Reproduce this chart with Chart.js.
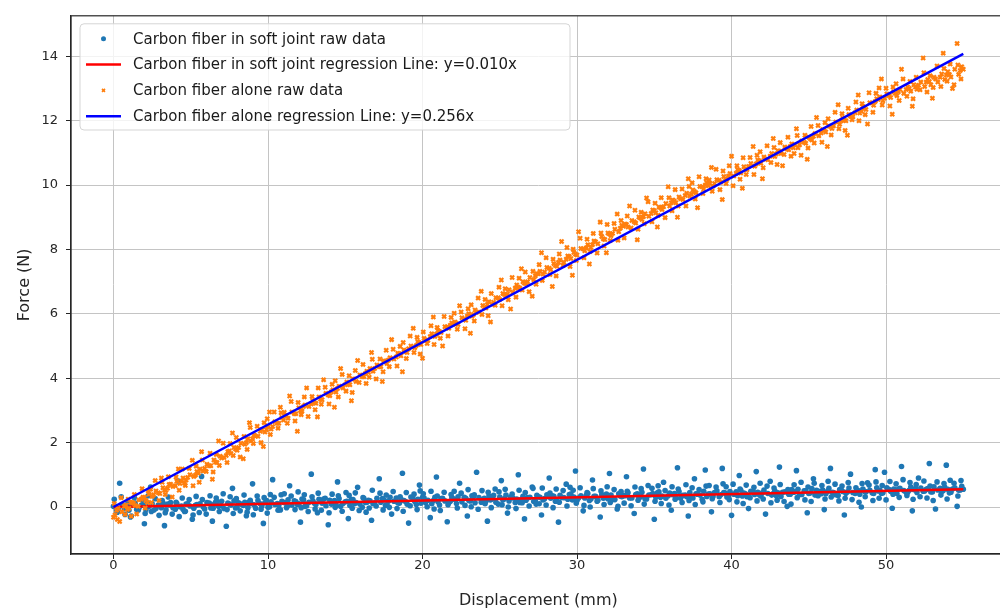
<!DOCTYPE html>
<html>
<head>
<meta charset="utf-8">
<script src="https://cdn.jsdelivr.net/npm/chart.js@4.4.1/dist/chart.umd.min.js"></script>
<style>
  html, body { margin: 0; padding: 0; background: #fff; overflow: hidden; }
  canvas { display: block; }
</style>
</head>
<body>
<canvas id="forceChart" width="1012" height="615"></canvas>
<script>
// displacement samples (mm), first pass
const displacement = [
  0.0,0.2,0.4,0.7,0.9,1.1,1.3,1.5,1.8,2.0,2.2,2.4,2.6,2.9,3.1,3.3,3.5,3.7,4.0,4.2,4.4,4.6,4.8,5.1,5.3,
  5.5,5.7,5.9,6.2,6.4,6.6,6.8,7.0,7.3,7.5,7.7,7.9,8.1,8.4,8.6,8.8,9.0,9.2,9.5,9.7,9.9,10.1,10.3,10.6,10.8,
  11.0,11.2,11.4,11.7,11.9,12.1,12.3,12.5,12.8,13.0,13.2,13.4,13.6,13.9,14.1,14.3,14.5,14.7,15.0,15.2,15.4,15.6,15.8,16.1,16.3,
  16.5,16.7,16.9,17.2,17.4,17.6,17.8,18.0,18.3,18.5,18.7,18.9,19.1,19.4,19.6,19.8,20.0,20.2,20.5,20.7,20.9,21.1,21.3,21.6,21.8,
  22.0,22.2,22.4,22.7,22.9,23.1,23.3,23.5,23.8,24.0,24.2,24.4,24.6,24.9,25.1,25.3,25.5,25.7,26.0,26.2,26.4,26.6,26.8,27.1,27.3,
  27.5,27.7,27.9,28.2,28.4,28.6,28.8,29.0,29.3,29.5,29.7,29.9,30.1,30.4,30.6,30.8,31.0,31.2,31.5,31.7,31.9,32.1,32.3,32.6,32.8,
  33.0,33.2,33.4,33.7,33.9,34.1,34.3,34.5,34.8,35.0,35.2,35.4,35.6,35.9,36.1,36.3,36.5,36.7,37.0,37.2,37.4,37.6,37.8,38.1,38.3,
  38.5,38.7,38.9,39.2,39.4,39.6,39.8,40.0,40.3,40.5,40.7,40.9,41.1,41.4,41.6,41.8,42.0,42.2,42.5,42.7,42.9,43.1,43.3,43.6,43.8,
  44.0,44.2,44.4,44.7,44.9,45.1,45.3,45.5,45.8,46.0,46.2,46.4,46.6,46.9,47.1,47.3,47.5,47.7,48.0,48.2,48.4,48.6,48.8,49.1,49.3,
  49.5,49.7,49.9,50.2,50.4,50.6,50.8,51.0,51.3,51.5,51.7,51.9,52.1,52.4,52.6,52.8,53.0,53.2,53.5,53.7,53.9,54.1,54.3,54.6,54.8,
  55.0
];

// force (N), carbon fiber inside the soft joint, first pass
const softJointForce = [
  0.02,-0.12,0.74,-0.05,0.08,-0.31,0.11,-0.08,0.05,-0.52,0.12,0.62,-0.1,0.06,-0.02,-0.58,0.09,0.14,-0.07,0.81,0.03,-0.14,0.1,-0.38,0.05,
  0.07,0.95,-0.06,0.12,-0.44,0.15,0.02,0.18,-0.6,0.09,0.58,-0.03,0.13,0.05,-0.27,0.16,0.72,-0.04,0.1,-0.51,0.2,0.01,0.85,0.11,-0.09,
  0.15,-0.02,0.66,0.19,0.08,-0.47,0.22,0.04,1.02,0.12,-0.18,0.17,0.25,-0.55,0.09,0.2,0.78,0.02,0.16,-0.36,0.23,0.1,0.61,-0.01,0.14,
  0.21,-0.41,0.13,0.88,0.26,0.05,0.19,-0.22,0.28,0.12,1.05,0.17,-0.5,0.24,0.08,0.68,0.3,0.14,-0.33,0.2,0.93,0.06,0.27,-0.46,0.18,
  0.25,0.11,0.74,0.3,-0.28,0.19,0.33,1.08,0.15,0.27,-0.44,0.22,0.36,0.09,0.82,0.26,-0.19,0.31,0.14,1.0,0.24,-0.37,0.29,0.62,0.2,
  0.32,-0.25,0.26,0.9,0.35,0.18,-0.47,0.3,0.71,0.39,0.22,1.12,0.28,-0.12,0.36,0.2,0.84,0.33,-0.31,0.27,0.4,1.04,0.23,-0.06,0.34,
  0.36,0.94,0.28,-0.2,0.41,0.31,1.18,0.25,0.38,-0.38,0.44,0.3,0.77,0.35,-0.1,0.42,1.22,0.27,0.37,-0.28,0.33,0.88,0.4,0.24,1.15,
  0.4,-0.15,0.45,0.32,1.2,0.43,0.36,-0.26,0.47,0.98,0.34,0.41,-0.05,0.49,1.1,0.38,0.44,-0.22,0.8,0.42,0.35,1.24,0.46,0.02,0.4,
  0.46,1.13,0.39,0.5,-0.18,0.44,0.88,0.52,0.41,-0.08,0.48,1.2,0.45,0.36,0.53,-0.25,0.47,1.02,0.42,0.51,0.0,0.49,0.75,0.44,1.16,
  0.5,0.43,1.08,0.54,-0.04,0.48,0.56,1.26,0.46,0.52,-0.12,0.57,0.9,0.49,0.55,1.35,0.47,-0.06,0.58,0.51,1.3,0.44,0.56,0.02,0.53,
  0.55
];

// force (N), bare carbon fiber, first pass
const fiberAloneForce = [
  -0.32,-0.1,-0.45,0.02,-0.08,0.15,0.12,-0.22,0.25,0.3,0.14,0.55,0.38,0.44,0.9,0.53,0.58,0.71,0.66,1.18,0.8,0.74,0.92,1.45,0.99,
  1.05,1.72,1.2,1.28,0.86,1.4,2.05,1.52,1.6,1.74,2.3,1.8,1.85,1.5,2.0,2.62,2.12,2.2,2.35,1.88,2.4,2.95,2.5,2.6,3.1,
  2.7,2.84,3.45,2.9,2.35,3.0,3.12,3.7,3.2,3.25,2.8,3.35,3.95,3.48,3.58,3.1,3.68,4.3,3.8,3.82,3.3,3.97,4.55,4.05,4.15,
  4.18,4.8,4.3,4.36,3.9,4.52,4.57,5.2,4.66,4.76,4.2,4.83,4.92,5.55,5.02,5.1,4.62,5.18,5.3,5.9,5.37,5.45,5.0,5.6,5.65,
  5.68,5.7,6.25,5.84,5.93,5.4,5.98,6.05,6.7,6.2,6.29,5.75,6.36,6.5,7.05,6.6,6.62,6.15,6.8,6.83,7.4,6.95,7.0,6.55,7.18,
  7.25,7.9,7.3,7.42,6.85,7.5,7.6,8.25,7.7,7.78,7.2,7.85,8.55,8.02,8.05,7.55,8.15,8.24,8.85,8.33,7.9,8.48,8.5,9.1,8.66,
  8.72,8.78,9.35,8.86,8.3,8.98,9.02,9.6,9.12,9.2,8.7,9.3,9.33,9.95,9.45,9.5,9.0,9.58,9.68,10.2,9.72,9.8,9.3,9.95,10.0,
  9.98,10.55,10.05,10.15,9.55,10.2,10.28,10.9,10.37,10.45,9.9,10.5,10.58,11.2,10.66,10.75,10.2,10.8,10.9,11.45,10.97,11.05,10.6,11.12,11.2,
  11.16,11.75,11.25,11.33,10.8,11.44,11.52,12.1,11.62,11.7,11.2,11.82,11.84,12.5,12.0,12.02,11.55,12.14,12.25,12.8,12.3,12.4,11.9,12.55,12.6,
  12.66,13.3,12.7,12.78,12.2,12.85,12.9,13.6,12.97,13.0,12.45,13.05,13.1,13.95,13.2,13.22,12.7,13.3,13.35,14.1,13.42,13.44,13.0,14.4,13.56,
  13.6
];

// displacement samples (mm), second pass
const displacement2 = [
  0.1,0.3,0.55,0.8,1.0,1.2,1.4,1.65,1.9,2.1,2.3,2.5,2.75,3.0,3.2,3.4,3.6,3.85,4.1,4.3,4.5,4.7,4.95,5.2,5.4,
  5.6,5.8,6.05,6.3,6.5,6.7,6.9,7.15,7.4,7.6,7.8,8.0,8.25,8.5,8.7,8.9,9.1,9.35,9.6,9.8,10.0,10.2,10.45,10.7,10.9,
  11.1,11.3,11.55,11.8,12.0,12.2,12.4,12.65,12.9,13.1,13.3,13.5,13.75,14.0,14.2,14.4,14.6,14.85,15.1,15.3,15.5,15.7,15.95,16.2,16.4,
  16.6,16.8,17.05,17.3,17.5,17.7,17.9,18.15,18.4,18.6,18.8,19.0,19.25,19.5,19.7,19.9,20.1,20.35,20.6,20.8,21.0,21.2,21.45,21.7,21.9,
  22.1,22.3,22.55,22.8,23.0,23.2,23.4,23.65,23.9,24.1,24.3,24.5,24.75,25.0,25.2,25.4,25.6,25.85,26.1,26.3,26.5,26.7,26.95,27.2,27.4,
  27.6,27.8,28.05,28.3,28.5,28.7,28.9,29.15,29.4,29.6,29.8,30.0,30.25,30.5,30.7,30.9,31.1,31.35,31.6,31.8,32.0,32.2,32.45,32.7,32.9,
  33.1,33.3,33.55,33.8,34.0,34.2,34.4,34.65,34.9,35.1,35.3,35.5,35.75,36.0,36.2,36.4,36.6,36.85,37.1,37.3,37.5,37.7,37.95,38.2,38.4,
  38.6,38.8,39.05,39.3,39.5,39.7,39.9,40.15,40.4,40.6,40.8,41.0,41.25,41.5,41.7,41.9,42.1,42.35,42.6,42.8,43.0,43.2,43.45,43.7,43.9,
  44.1,44.3,44.55,44.8,45.0,45.2,45.4,45.65,45.9,46.1,46.3,46.5,46.75,47.0,47.2,47.4,47.6,47.85,48.1,48.3,48.5,48.7,48.95,49.2,49.4,
  49.6,49.8,50.05,50.3,50.5,50.7,50.9,51.15,51.4,51.6,51.8,52.0,52.25,52.5,52.7,52.9,53.1,53.35,53.6,53.8,54.0,54.2,54.45,54.7,54.9
];

// force (N), carbon fiber inside the soft joint, second pass
const softJointForce2 = [
  0.03,-0.06,0.08,0.0,-0.1,0.05,0.12,-0.03,0.07,-0.08,0.02,0.1,-0.05,0.04,0.13,-0.09,0.06,-0.02,0.11,0.01,-0.07,0.09,0.03,-0.04,0.08,
  0.1,0.01,0.14,-0.03,0.08,0.17,0.04,-0.05,0.12,0.06,0.19,0.0,0.09,0.15,-0.02,0.11,0.07,0.2,0.03,0.13,-0.01,0.16,0.08,0.05,0.18,
  0.13,0.22,0.06,0.17,0.1,0.25,0.02,0.15,0.19,0.08,0.24,0.12,0.04,0.21,0.16,0.07,0.26,0.11,0.18,0.05,0.23,0.14,0.09,0.27,0.15,
  0.19,0.1,0.27,0.15,0.22,0.07,0.3,0.18,0.13,0.25,0.2,0.09,0.31,0.17,0.24,0.12,0.28,0.21,0.1,0.3,0.16,0.26,0.19,0.13,0.29,
  0.24,0.32,0.16,0.27,0.2,0.35,0.13,0.29,0.23,0.18,0.34,0.26,0.15,0.31,0.22,0.37,0.19,0.28,0.25,0.14,0.33,0.21,0.3,0.17,0.36,
  0.3,0.22,0.38,0.27,0.33,0.19,0.36,0.29,0.24,0.4,0.31,0.2,0.35,0.28,0.42,0.25,0.33,0.21,0.39,0.3,0.26,0.37,0.23,0.41,0.32,
  0.35,0.44,0.28,0.39,0.31,0.46,0.26,0.37,0.42,0.3,0.47,0.34,0.27,0.43,0.38,0.29,0.48,0.36,0.32,0.45,0.28,0.41,0.37,0.49,0.33,
  0.41,0.33,0.5,0.38,0.45,0.31,0.48,0.4,0.35,0.52,0.43,0.32,0.49,0.39,0.46,0.34,0.53,0.42,0.37,0.5,0.44,0.33,0.47,0.4,0.54,
  0.47,0.55,0.39,0.5,0.42,0.57,0.37,0.49,0.53,0.41,0.58,0.46,0.38,0.54,0.48,0.43,0.59,0.45,0.51,0.4,0.56,0.47,0.52,0.42,0.6,
  0.52,0.44,0.6,0.49,0.56,0.42,0.58,0.51,0.46,0.62,0.54,0.45,0.59,0.5,0.57,0.47,0.63,0.53,0.48,0.61,0.55,0.46,0.6,0.52,0.64
];

// force (N), bare carbon fiber, second pass
const fiberAloneForce2 = [
  -0.25,-0.05,-0.15,0.06,-0.04,0.14,0.05,0.22,0.3,0.2,0.4,0.33,0.5,0.42,0.6,0.52,0.7,0.64,0.8,0.73,0.9,0.84,1.0,0.95,1.1,
  1.18,1.12,1.33,1.28,1.46,1.38,1.58,1.54,1.72,1.66,1.85,1.76,1.98,1.95,2.12,2.05,2.24,2.2,2.4,2.33,2.52,2.42,2.65,2.6,2.78,
  2.84,2.76,2.95,2.9,3.08,2.98,3.17,3.12,3.3,3.22,3.42,3.33,3.53,3.46,3.64,3.57,3.75,3.7,3.88,3.8,3.98,3.9,4.1,4.05,4.22,
  4.3,4.22,4.41,4.36,4.54,4.46,4.64,4.6,4.78,4.7,4.88,4.8,5.0,4.95,5.13,5.05,5.24,5.18,5.38,5.3,5.48,5.42,5.6,5.55,5.72,
  5.75,5.67,5.88,5.8,6.0,5.93,6.12,6.06,6.26,6.18,6.38,6.3,6.5,6.45,6.63,6.55,6.75,6.68,6.9,6.8,7.0,6.94,7.13,7.06,7.25,
  7.32,7.24,7.44,7.37,7.56,7.48,7.67,7.6,7.8,7.72,7.91,7.83,8.03,7.96,8.15,8.07,8.26,8.18,8.4,8.31,8.51,8.43,8.63,8.55,8.75,
  8.79,8.7,8.9,8.82,9.01,8.93,9.11,9.03,9.23,9.14,9.32,9.24,9.43,9.35,9.54,9.45,9.63,9.55,9.75,9.66,9.85,9.76,9.96,9.88,10.07,
  10.06,9.97,10.17,10.09,10.27,10.18,10.36,10.28,10.48,10.38,10.57,10.48,10.67,10.59,10.78,10.68,10.87,10.79,10.98,10.89,11.07,10.98,11.18,11.1,11.28,
  11.25,11.16,11.37,11.3,11.49,11.4,11.6,11.53,11.73,11.65,11.84,11.76,11.96,11.89,12.08,12.0,12.19,12.12,12.33,12.24,12.44,12.35,12.56,12.48,12.68,
  12.74,12.62,12.83,12.72,12.9,12.78,12.97,12.85,13.05,12.92,13.12,12.98,13.2,13.06,13.28,13.12,13.35,13.2,13.45,13.28,13.52,13.36,13.6,13.44,13.68
];

// displacement samples (mm), third pass
const displacement3 = [
  0.05,0.25,0.5,0.75,0.95,1.15,1.35,1.6,1.85,2.05,2.25,2.45,2.7,2.95,3.15,3.35,3.55,3.8,4.05,4.25,4.45,4.65,4.9,5.15,5.35,
  5.55,5.75,6.0,6.25,6.45,6.65,6.85,7.1,7.35,7.55,7.75,7.95,8.2,8.45,8.65,8.85,9.05,9.3,9.55,9.75,9.95,10.15,10.4,10.65,10.85,
  11.05,11.25,11.5,11.75,11.95,12.15,12.35,12.6,12.85,13.05,13.25,13.45,13.7,13.95,14.15,14.35,14.55,14.8,15.05,15.25,15.45,15.65,15.9,16.15,16.35,
  16.55,16.75,17.0,17.25,17.45,17.65,17.85,18.1,18.35,18.55,18.75,18.95,19.2,19.45,19.65,19.85,20.05,20.3,20.55,20.75,20.95,21.15,21.4,21.65,21.85,
  22.05,22.25,22.5,22.75,22.95,23.15,23.35,23.6,23.85,24.05,24.25,24.45,24.7,24.95,25.15,25.35,25.55,25.8,26.05,26.25,26.45,26.65,26.9,27.15,27.35,
  27.55,27.75,28.0,28.25,28.45,28.65,28.85,29.1,29.35,29.55,29.75,29.95,30.2,30.45,30.65,30.85,31.05,31.3,31.55,31.75,31.95,32.15,32.4,32.65,32.85,
  33.05,33.25,33.5,33.75,33.95,34.15,34.35,34.6,34.85,35.05,35.25,35.45,35.7,35.95,36.15,36.35,36.55,36.8,37.05,37.25,37.45,37.65,37.9,38.15,38.35,
  38.55,38.75,39.0,39.25,39.45,39.65,39.85,40.1,40.35,40.55,40.75,40.95,41.2,41.45,41.65,41.85,42.05,42.3,42.55,42.75,42.95,43.15,43.4,43.65,43.85,
  44.05,44.25,44.5,44.75,44.95,45.15,45.35,45.6,45.85,46.05,46.25,46.45,46.7,46.95,47.15,47.35,47.55,47.8,48.05,48.25,48.45,48.65,48.9,49.15,49.35,
  49.55,49.75,50.0,50.25,50.45,50.65,50.85,51.1,51.35,51.55,51.75,51.95,52.2,52.45,52.65,52.85,53.05,53.3,53.55,53.75,53.95,54.15,54.4,54.65,54.85
];

// force (N), carbon fiber inside the soft joint, third pass
const softJointForce3 = [
  0.24,-0.16,0.32,-0.23,0.17,-0.28,0.29,-0.1,0.22,-0.2,0.35,-0.14,0.26,-0.26,0.2,-0.18,0.31,-0.22,0.15,-0.3,0.28,-0.13,0.23,-0.25,0.33,
  -0.17,0.23,-0.22,0.35,-0.04,0.28,-0.14,0.41,-0.08,0.32,-0.2,0.26,-0.12,0.37,-0.16,0.21,-0.24,0.34,-0.07,0.29,-0.19,0.39,0.3,-0.1,0.38,
  0.41,0.02,0.34,-0.08,0.47,-0.02,0.38,-0.14,0.32,-0.06,0.43,-0.1,0.27,-0.18,0.4,-0.01,0.35,-0.13,0.45,0.36,-0.04,0.44,-0.11,0.29,-0.16,
  -0.03,0.52,0.03,0.43,-0.09,0.37,-0.01,0.48,-0.05,0.32,-0.13,0.45,0.04,0.4,-0.08,0.5,0.41,0.01,0.49,-0.06,0.34,-0.11,0.46,0.07,0.39,
  0.49,-0.03,0.43,0.05,0.54,0.01,0.38,-0.07,0.51,0.1,0.46,-0.02,0.56,0.47,0.07,0.55,0.0,0.4,-0.05,0.52,0.13,0.45,0.03,0.58,0.09,
  0.1,0.59,0.06,0.43,-0.02,0.56,0.15,0.51,0.03,0.61,0.52,0.12,0.6,0.05,0.45,0.0,0.57,0.18,0.5,0.08,0.63,0.14,0.54,0.02,0.48,
  0.12,0.49,0.04,0.62,0.21,0.57,0.09,0.67,0.58,0.18,0.66,0.11,0.51,0.06,0.63,0.24,0.56,0.14,0.69,0.2,0.6,0.08,0.54,0.16,0.65,
  0.67,0.26,0.62,0.14,0.72,0.63,0.23,0.71,0.16,0.56,0.11,0.68,0.29,0.61,0.19,0.74,0.25,0.65,0.13,0.59,0.21,0.7,0.17,0.54,0.09,
  0.69,0.29,0.77,0.22,0.62,0.17,0.74,0.35,0.67,0.25,0.8,0.31,0.71,0.19,0.65,0.27,0.76,0.23,0.6,0.15,0.73,0.32,0.68,0.2,0.78,
  0.27,0.67,0.22,0.79,0.4,0.72,0.3,0.85,0.36,0.76,0.24,0.7,0.32,0.81,0.28,0.65,0.2,0.78,0.37,0.73,0.25,0.83,0.74,0.34,0.82
];

// force (N), bare carbon fiber, third pass
const fiberAloneForce3 = [
  0.11,-0.39,0.29,-0.23,0.24,-0.29,0.39,0.02,0.57,-0.03,0.5,0.14,0.82,0.2,0.77,0.39,0.94,0.31,0.93,0.52,1.18,0.67,1.2,0.66,1.27,
  0.77,1.46,1.1,1.67,1.09,1.63,1.29,1.98,1.38,1.97,1.6,2.16,1.55,2.19,1.79,2.47,1.97,2.51,2.0,2.62,2.74,2.25,2.95,2.45,2.93,
  2.94,2.6,3.28,2.67,3.25,2.87,3.42,2.81,3.43,3.02,3.7,3.19,3.72,3.2,3.81,3.92,3.42,4.12,3.6,4.08,3.56,4.24,3.87,4.43,3.84,
  4.03,4.59,3.98,4.6,4.2,4.87,4.36,4.9,4.38,4.99,5.11,4.61,5.31,4.8,5.27,4.75,5.44,5.08,5.63,5.05,5.58,5.24,5.92,5.31,5.89,
  6.02,5.52,6.06,5.54,6.16,6.28,5.78,6.49,5.98,6.45,5.94,6.63,6.27,6.83,6.25,6.78,6.44,7.13,6.52,7.11,6.74,7.3,6.69,7.32,6.92,
  7.53,7.04,7.74,7.22,7.7,7.18,7.86,7.5,8.06,7.47,8.01,7.66,8.35,7.74,8.32,7.94,8.5,7.89,8.51,8.11,8.78,8.28,8.81,8.29,8.9,
  8.36,9.04,8.67,9.22,8.63,9.16,8.8,9.48,8.86,9.44,9.06,9.61,8.99,9.61,9.2,9.86,9.35,9.88,9.35,9.96,10.07,9.57,10.26,9.74,10.2,
  10.16,9.81,10.49,9.86,10.44,10.05,10.6,9.98,10.6,10.18,10.85,10.33,10.86,10.33,10.93,11.04,10.54,11.22,10.7,11.17,10.64,11.32,10.95,11.49,10.9,
  10.98,11.54,10.93,11.55,11.15,11.82,11.31,11.85,11.33,11.94,12.06,11.56,12.26,11.75,12.22,11.7,12.39,12.03,12.58,12.0,12.53,12.19,12.87,12.26,12.85,
  13.02,12.49,13.01,12.46,13.05,13.15,12.63,13.3,12.76,13.22,12.68,13.35,12.96,13.49,12.89,13.4,13.03,13.7,13.06,13.62,13.23,13.76,13.12,13.73,13.3
];

// fitted slopes (N/mm) and the displacement span they are drawn over
const softJointSlope = 0.010;
const fiberAloneSlope = 0.256;
const fitSpan = [0, 55];

const xTicks = [0, 10, 20, 30, 40, 50];
const yTicks = [0, 2, 4, 6, 8, 10, 12, 14];

const FONT = '"DejaVu Sans", "Liberation Sans", sans-serif';

const toPoints = (xs, ys) => xs.map((x, i) => ({ x: x, y: ys[i] }));
const fitLine = k => fitSpan.map(x => ({ x: x, y: k * x }));

const softJointPoints = [
    ...toPoints(displacement, softJointForce),
    ...toPoints(displacement2, softJointForce2),
    ...toPoints(displacement3, softJointForce3)
];
const fiberAlonePoints = [
    ...toPoints(displacement, fiberAloneForce),
    ...toPoints(displacement2, fiberAloneForce2),
    ...toPoints(displacement3, fiberAloneForce3)
];

// full box around the plot area, like matplotlib spines
const frame = {
    id: 'frame',
    afterDatasetsDraw(chart) {
        const { ctx, chartArea: a } = chart;
        ctx.save();
        ctx.strokeStyle = '#262626';
        ctx.lineWidth = 1.2;
        ctx.strokeRect(a.left, a.top, a.right - a.left, a.bottom - a.top);
        ctx.restore();
    }
};

// legend drawn inside the axes, upper left
const insideLegend = {
    id: 'insideLegend',
    afterDraw(chart) {
        const { ctx, chartArea: a } = chart;
        const sets = chart.data.datasets;
        const x0 = a.left + 9, y0 = a.top + 8;
        const rowH = 25.8;
        const w = 490, h = sets.length * rowH + 3;

        ctx.save();
        ctx.beginPath();
        ctx.roundRect(x0, y0, w, h, 4);
        ctx.fillStyle = 'rgba(255,255,255,0.8)';
        ctx.fill();
        ctx.strokeStyle = '#d5d5d5';
        ctx.lineWidth = 1;
        ctx.stroke();

        ctx.font = '15px ' + FONT;
        ctx.textBaseline = 'middle';
        sets.forEach((ds, i) => {
            const cy = y0 + 15 + i * rowH;
            const hx = x0 + 6;
            if (ds.showLine) {
                ctx.strokeStyle = ds.borderColor;
                ctx.lineWidth = 2.5;
                ctx.beginPath();
                ctx.moveTo(hx, cy);
                ctx.lineTo(hx + 35, cy);
                ctx.stroke();
            } else if (ds.pointStyle === 'crossRot') {
                ctx.strokeStyle = ds.borderColor;
                ctx.lineWidth = 1.6;
                ctx.beginPath();
                ctx.moveTo(hx + 16, cy - 1.5); ctx.lineTo(hx + 19, cy + 1.5);
                ctx.moveTo(hx + 16, cy + 1.5); ctx.lineTo(hx + 19, cy - 1.5);
                ctx.stroke();
            } else {
                ctx.fillStyle = ds.backgroundColor;
                ctx.beginPath();
                ctx.arc(hx + 17.5, cy, 2.5, 0, Math.PI * 2);
                ctx.fill();
            }
            ctx.fillStyle = '#1a1a1a';
            ctx.fillText(ds.label, x0 + 53, cy + 1);
        });
        ctx.restore();
    }
};

new Chart(document.getElementById('forceChart'), {
    type: 'scatter',
    data: {
        datasets: [
            {
                label: 'Carbon fiber in soft joint raw data',
                data: softJointPoints,
                backgroundColor: '#1f77b4',
                borderWidth: 0,
                pointRadius: 2.8,
                order: 4
            },
            {
                label: 'Carbon fiber in soft joint regression Line: y=' + softJointSlope.toFixed(3) + 'x',
                data: fitLine(softJointSlope),
                showLine: true,
                borderColor: '#ff0000',
                borderWidth: 2.5,
                pointRadius: 0,
                order: 3
            },
            {
                label: 'Carbon fiber alone raw data',
                data: fiberAlonePoints,
                pointStyle: 'crossRot',
                borderColor: '#ff7f0e',
                backgroundColor: '#ff7f0e',
                borderWidth: 2.2,
                pointRadius: 2.8,
                order: 2
            },
            {
                label: 'Carbon fiber alone regression Line: y=' + fiberAloneSlope.toFixed(3) + 'x',
                data: fitLine(fiberAloneSlope),
                showLine: true,
                borderColor: '#0000ff',
                borderWidth: 2.5,
                pointRadius: 0,
                order: 1
            }
        ]
    },
    options: {
        responsive: false,
        animation: false,
        events: [],
        layout: { padding: { top: 6, right: 3, left: 0, bottom: 0 } },
        plugins: {
            legend: { display: false },
            tooltip: { enabled: false }
        },
        scales: {
            x: {
                type: 'linear',
                min: -2.75,
                max: 57.75,
                afterBuildTicks: axis => { axis.ticks = xTicks.map(v => ({ value: v })); },
                afterFit: scale => { scale.height = 61; },
                ticks: { color: '#262626', font: { family: FONT, size: 13 }, padding: -1 },
                grid: { color: '#c4c4c4', lineWidth: 1, tickColor: '#262626', tickLength: 5 },
                border: { color: '#262626', width: 1.2 },
                title: {
                    display: true,
                    text: 'Displacement (mm)',
                    color: '#262626',
                    font: { family: FONT, size: 16 },
                    padding: { top: 0, bottom: 5 }
                }
            },
            y: {
                type: 'linear',
                min: -1.46,
                max: 15.26,
                afterBuildTicks: axis => { axis.ticks = yTicks.map(v => ({ value: v })); },
                afterFit: scale => { scale.width = 71; },
                ticks: { color: '#262626', font: { family: FONT, size: 13 }, padding: 8 },
                grid: { color: '#c4c4c4', lineWidth: 1, tickColor: '#262626', tickLength: 5 },
                border: { color: '#262626', width: 1.2 },
                title: {
                    display: true,
                    text: 'Force (N)',
                    color: '#262626',
                    font: { family: FONT, size: 16 },
                    padding: { top: 15, bottom: 0 }
                }
            }
        }
    },
    plugins: [frame, insideLegend]
});
</script>
</body>
</html>
